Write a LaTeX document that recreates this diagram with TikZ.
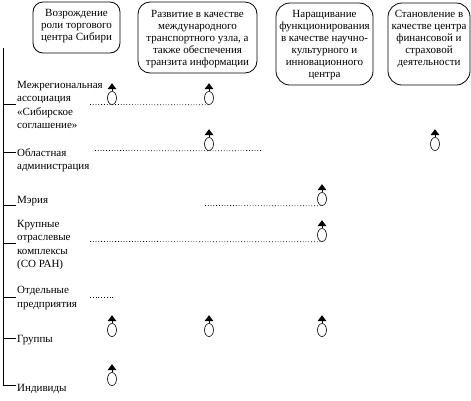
\documentclass[tikz,border=0pt]{standalone}
\usepackage{fontspec}
\setmainfont{Liberation Serif}
\usetikzlibrary{shapes.geometric}
\newcommand\mkmarker[3]{%
  \node[oval] (#1) at (#2,#3) {};
  \draw[line width=0.6bp] (#1.north) -- ++(0,-2);
  \fill ([shift={(-4.5,-2)}]#1.north) -- ++(9,0) -- ++(-4.5,-6) -- cycle;}
\begin{document}
\begin{tikzpicture}[x=1bp,y=-1bp,
  goalbox/.style={draw,rounded corners=12bp,line width=0.8bp,inner sep=0},
  goaltext/.style={align=center,font=\fontsize{11bp}{12bp}\selectfont,inner sep=0},
  lab/.style={anchor=west,align=left,font=\fontsize{11bp}{13.3bp}\selectfont,inner sep=0},
  oval/.style={draw,ellipse,minimum width=9bp,minimum height=13bp,inner sep=0,line width=0.6bp},
  dots/.style={line width=0.7bp,dash pattern=on 0.8bp off 2bp},
  spine/.style={line width=0.8bp}]
\useasboundingbox (0,0) rectangle (471,400);
% goal boxes
\node[goalbox,rounded corners=10bp,minimum width=87bp,minimum height=51bp] (b1) at (76.5,27.5) {};
\node[goaltext] (t1) at (76.5,26.5) {Возрождение\\роли торгового\\центра Сибири};
\node[goalbox,minimum width=119bp,minimum height=71bp] (b2) at (197.5,37.5) {};
\node[goaltext] (t2) at (197.5,39) {Развитие в качестве\\международного\\транспортного узла, а\\также обеспечения\\транзита информации};
\node[goalbox,rounded corners=14bp,minimum width=97bp,minimum height=82bp] (b3) at (324.5,44) {};
\node[goaltext] (t3) at (324.5,45) {Наращивание\\функционирования\\в качестве научно-\\культурного и\\инновационного\\центра};
\node[goalbox,rounded corners=14bp,minimum width=82bp,minimum height=82bp] (b4) at (429,44) {};
\node[goaltext] (t4) at (429,39) {Становление в\\качестве центра\\финансовой и\\страховой\\деятельности};
% spine and ticks
\coordinate (stop) at (3,48);
\coordinate (sbot) at (3,386);
\draw[spine] (stop) -- (sbot);
\foreach \yy in {104,152,205,243,297,338,385} \draw[spine] (3,\yy) -- (16,\yy);
% labels
\node[lab] (l1) at (17,105) {Межрегиональная\\ассоциация\\«Сибирское\\соглашение»};
\node[lab] (l2) at (17,160) {Областная\\администрация};
\node[lab] (l3) at (17,201) {Мэрия};
\node[lab] (l4) at (17,245) {Крупные\\отраслевые\\комплексы\\(СО РАН)};
\node[lab] (l5) at (17,298) {Отдельные\\предприятия};
\node[lab] (l6) at (17,340) {Группы};
\node[lab] (l7) at (17,389) {Индивиды};
% markers
\mkmarker{m11}{112}{98}
\mkmarker{m12}{209}{98}
\mkmarker{m22}{209}{144}
\mkmarker{m24}{435}{144}
\mkmarker{m33}{322}{199}
\mkmarker{m43}{322}{235}
\mkmarker{m61}{112}{330}
\mkmarker{m62}{209}{330}
\mkmarker{m63}{322}{330}
\mkmarker{m71}{112}{379}
% dotted lines
\coordinate (d1) at (90,104.5);
\draw[dots] (d1) -- (m12.south);
\coordinate (d2) at (95,150.5);
\coordinate (e2) at (262,150.5);
\draw[dots] (d2) -- (m22.south) -- (e2);
\coordinate (d3) at (205,205.5);
\draw[dots] (d3) -- (m33.south);
\coordinate (d4) at (90,241.5);
\draw[dots] (d4) -- (m43.south);
\coordinate (d5) at (90,297);
\coordinate (e5) at (115,297);
\draw[dots] (d5) -- (e5);
\end{tikzpicture}
\end{document}
